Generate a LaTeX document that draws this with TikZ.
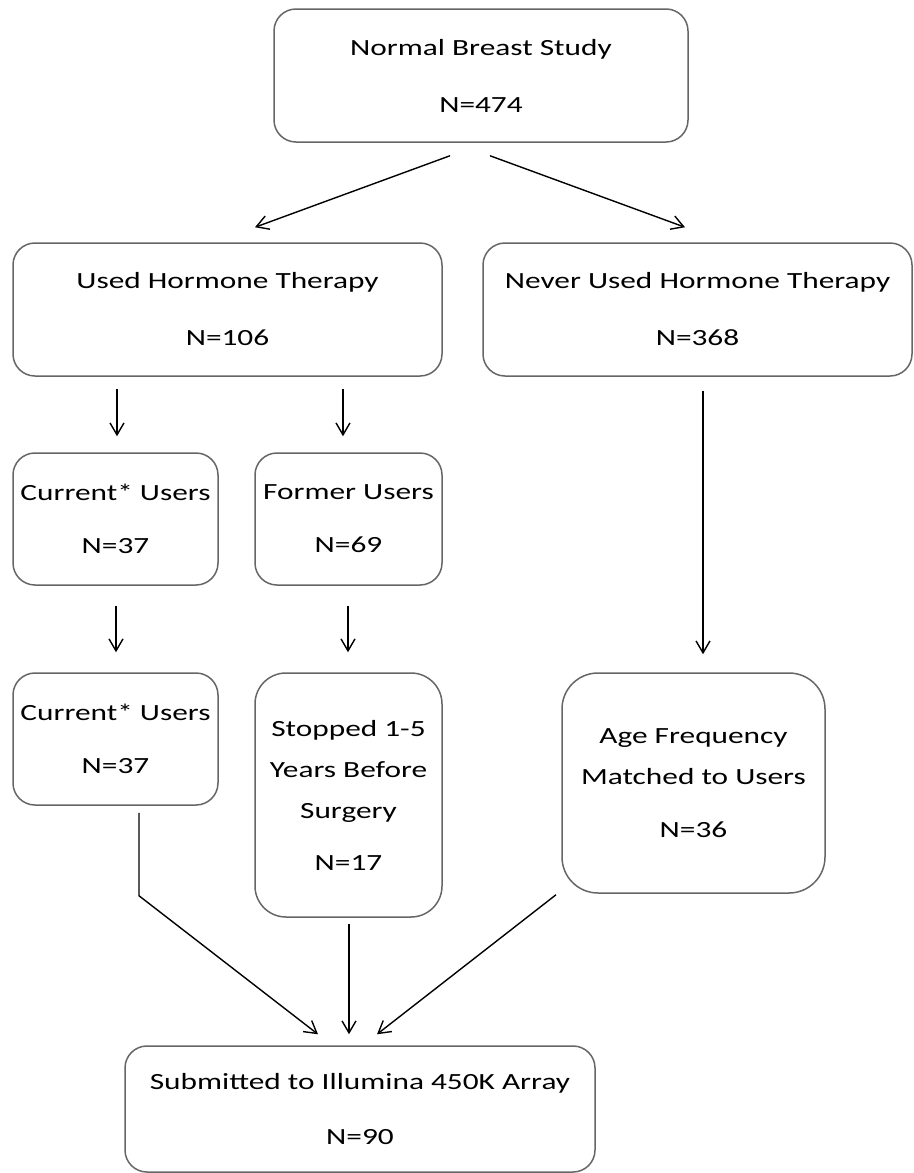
\documentclass[tikz,border=0pt]{standalone}
\usepackage{fontspec}
\setmainfont{Carlito}[FakeStretch=1.35]
\usetikzlibrary{arrows.meta,calc}

\begin{document}
\begin{tikzpicture}[x=0.5pt,y=-0.5pt,
  box/.style={rectangle,rounded corners=11pt,draw=black!60,line width=0.75pt,
    inner sep=0pt, align=center, font=\fontsize{11.6}{20.5}\selectfont},
  link/.style={-{Straight Barb[length=6pt,width=7pt]}, line width=0.7pt}]

  \useasboundingbox (0,0) rectangle (914,1173);

  \node[box,minimum width=207pt,minimum height=66.5pt] (study) at (481,75.5)
    {Normal Breast Study\\[8pt]N=474};
  \node[box,minimum width=214.5pt,minimum height=66.5pt] (used) at (227.5,309.5)
    {Used Hormone Therapy\\[8pt]N=106};
  \node[box,minimum width=214.5pt,minimum height=66.5pt] (never) at (697.5,309.5)
    {Never Used Hormone Therapy\\[8pt]N=368};
  \node[box,minimum width=102.5pt,minimum height=66pt] (cur1) at (115.5,519)
    {Current* Users\\[6pt]N=37};
  \node[box,minimum width=93.5pt,minimum height=66pt] (former) at (348.5,519)
    {Former Users\\[6pt]N=69};
  \node[box,minimum width=102.5pt,minimum height=66pt] (cur2) at (115.5,739)
    {Current* Users\\[6pt]N=37};
  \node[box,minimum width=93.5pt,minimum height=122pt,rounded corners=15.5pt] (stopped) at (348.5,795)
    {Stopped 1-5\\Years Before\\Surgery\\[5.5pt]N=17};
  \node[box,minimum width=131.5pt,minimum height=110pt,rounded corners=18pt] (age) at (693.5,783)
    {Age Frequency\\Matched to Users\\[6pt]N=36};
  \node[box,minimum width=235pt,minimum height=63pt] (submit) at (360,1109)
    {Submitted to Illumina 450K Array\\[7pt]N=90};

  \draw[link] ($(study.south)+(-31,13)$) -- ($(used.north)+(27.5,-15)$);
  \draw[link] ($(study.south)+(9,13)$) -- ($(never.north)+(-12.5,-15)$);
  \draw[link] ($(used.south -| cur1.north)+(1.5,12)$) -- ($(cur1.north)+(1.5,-16)$);
  \draw[link] ($(used.south -| former.north)+(-5.5,12)$) -- ($(former.north)+(-5.5,-16)$);
  \draw[link] ($(never.south -| age.north)+(9.5,14)$) -- ($(age.north)+(9.5,-18)$);
  \draw[link] ($(cur1.south)+(0.5,20)$) -- ($(cur2.north)+(0.5,-20)$);
  \draw[link] ($(former.south)+(-0.5,20)$) -- ($(stopped.north)+(-0.5,-20)$);
  % three branches join at the array box
  \draw[link] ($(cur2.south)+(23.5,7)$) -- ++(0,83) -- ($(submit.north)+(-42,-11)$);
  \draw[link] ($(stopped.south)+(0.5,6)$) -- ($(stopped.south |- submit.north)+(0.5,-11)$);
  \draw[link] ($(age.south)+(-137.5,1)$) -- ($(submit.north)+(17,-11)$);
\end{tikzpicture}
\end{document}
